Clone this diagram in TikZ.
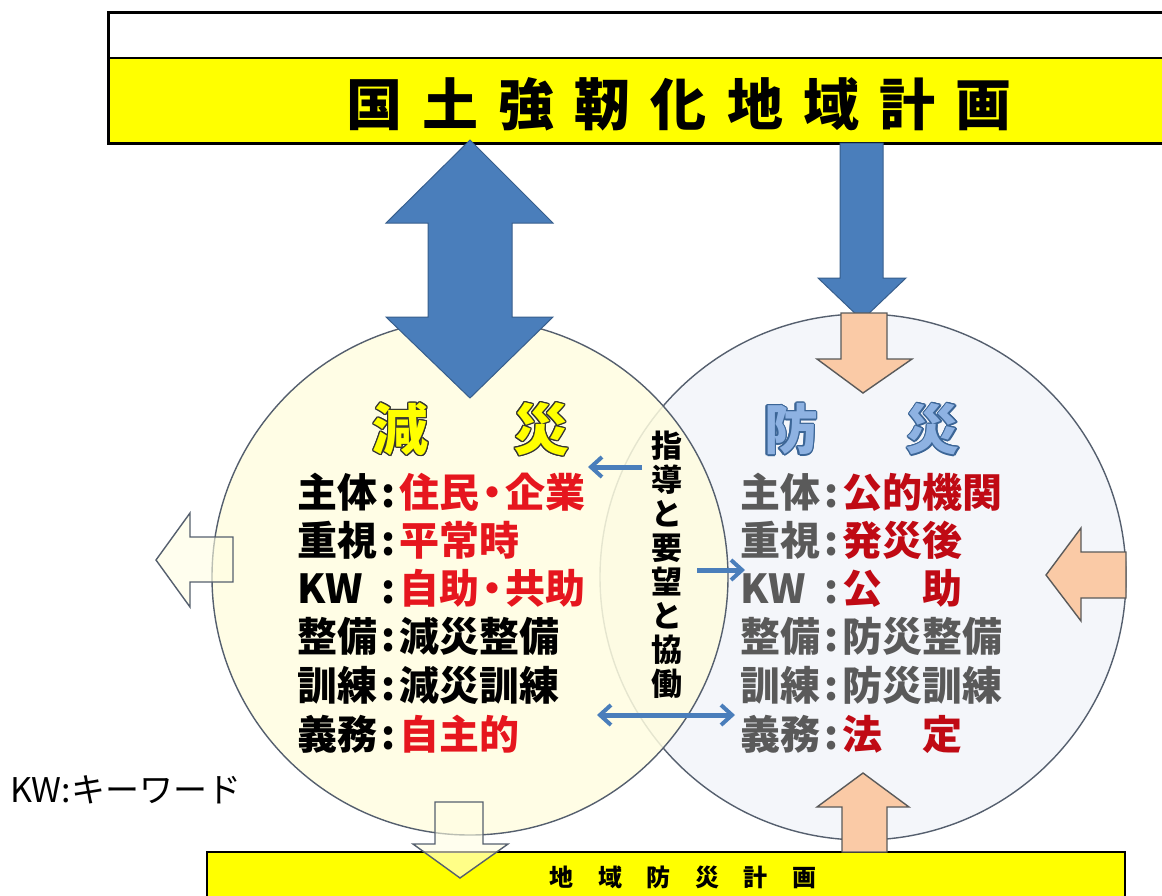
\documentclass[tikz,border=0pt]{standalone}
\usepackage{fontspec}
\setmainfont{Noto Sans CJK JP}
\usepackage{contour}
\usetikzlibrary{positioning, arrows.meta, calc}
\definecolor{planyellow}{rgb}{1, 1, 0}
\definecolor{gensaifill}{RGB}{255, 253, 224}
\definecolor{bosaifill}{RGB}{244, 246, 250}
\definecolor{bigblue}{RGB}{74, 126, 187}
\definecolor{peach}{RGB}{250, 202, 166}
\definecolor{paleyellow}{RGB}{255, 254, 226}
\definecolor{redL}{RGB}{230, 22, 30}
\definecolor{redR}{RGB}{192, 10, 20}
\definecolor{grayR}{RGB}{90, 90, 90}
\definecolor{edgegray}{RGB}{85, 95, 110}
\definecolor{titleblue}{RGB}{142, 178, 226}

\newcommand{\rowfont}{\fontsize{40}{44}\selectfont\bfseries}
\newcommand{\sep}{\makebox[22pt]{:}}
\newcommand{\lab}[1]{\makebox[80pt][l]{#1}}
\contourlength{1.3pt}

\tikzset{
  ring/.style={circle, draw=edgegray, line width=1.4pt, minimum size=#1, inner sep=0pt},
  bigarrow/.style={fill=bigblue, draw=bigblue!75!black, line width=1pt},
  peacharrow/.style={fill=peach, draw=grayR, line width=1.4pt},
  hollowarrow/.style={fill=paleyellow, fill opacity=0.6, draw=edgegray, line width=1.4pt},
  rowL/.style={anchor=west, inner sep=0pt, font=\rowfont},
  rowR/.style={anchor=west, inner sep=0pt, font=\rowfont, text=grayR},
  barb/.tip={Straight Barb[length=11pt,width=20pt,line width=4pt]},
  guidearrow/.style={draw=bigblue, line width=5pt, arrows={-barb}}
}

\begin{document}
\begin{tikzpicture}[x=1pt,y=-1pt]
		\useasboundingbox (0,0) rectangle (1162,895);

		% two circles
		\node[ring=526pt, fill=bosaifill] (bosai) at (863,577) {};
		\node[ring=516pt, fill=gensaifill, fill opacity=0.85] (gensai) at (470,577) {};

		% top plan
		\fill[white] (108,12) rectangle (1180,58);
		\fill[planyellow] (108,58) rectangle (1180,143);
		\draw[line width=3pt] (108,12) rectangle (1180,143);
		\draw[line width=2.5pt] (108,58) -- (1180,58);
		\node[font=\fontsize{56}{60}\selectfont\bfseries, inner sep=0pt] (kyojin) at (679,104)
			{\addfontfeatures{LetterSpace=36}国土強靭化地域計画};

		% bottom plan
		\fill[planyellow] (207,852) rectangle (1125,905);
		\draw[line width=2pt] (207,905) -- (207,852) -- (1125,852) -- (1125,905);
		\node[font=\fontsize{24}{26}\selectfont\bfseries, inner sep=0pt] (chiiki) at (683,877)
			{\addfontfeatures{LetterSpace=102}地域防災計画};

		% blue arrows from the top plan
		\draw[bigarrow] (470,140) -- ++(83,83) -- ++(-41,0) -- ++(0,94) -- ++(41,0)
			-- (470,398) -- ++(-84,-81) -- ++(42,0) -- ++(0,-94) -- ++(-42,0) -- cycle;
		\draw[bigarrow] (840,143) -- ++(43,0) -- ++(0,135) -- ++(23,0) -- (862,320)
			-- ++(-44,-42) -- ++(22,0) -- cycle;

		% peach arrows into the right circle
		\draw[peacharrow] (841,313) -- ++(46,0) -- ++(0,46) -- ++(25,0) -- (863,393)
			-- ++(-46,-34) -- ++(24,0) -- cycle;
		\draw[peacharrow] (1126,552) -- ++(-45,0) -- ++(0,-24) -- (1046,575)
			-- ++(35,46) -- ++(0,-23) -- ++(45,0) -- cycle;
		\draw[peacharrow] (842,852) -- ++(0,-45) -- ++(-25,0) -- (863,773)
			-- ++(46,34) -- ++(-22,0) -- ++(0,45) -- cycle;

		% pale arrows out of the left circle
		\draw[hollowarrow] (233,537) -- ++(-43,0) -- ++(0,-24) -- (156,560)
			-- ++(34,47) -- ++(0,-25) -- ++(43,0) -- cycle;
		\draw[hollowarrow] (435,802) -- ++(48,0) -- ++(0,42) -- ++(25,0) -- (460,878)
			-- ++(-47,-34) -- ++(22,0) -- cycle;

		% circle titles
		\node[font=\fontsize{56}{60}\selectfont\bfseries, inner sep=0pt] (gentitle) at (471,430)
			{\contour{black!80}{\textcolor{planyellow}{減\hspace{85pt}災}}};
		\node[font=\fontsize{54}{58}\selectfont\bfseries, inner sep=0pt] (botitle) at (862,430)
			{\contour{bigblue!80!black}{\textcolor{titleblue}{防\hspace{88pt}災}}};

		% left rows
		\node[rowL] (l1) at (297,492) {\lab{主体}\sep\textcolor{redL}{住民\makebox[26pt]{・}企業}};
		\node[rowL] (l2) at (297,540) {\lab{重視}\sep\textcolor{redL}{平常時}};
		\node[rowL] (l3) at (297,588) {\lab{KW}\sep\textcolor{redL}{自助\makebox[26pt]{・}共助}};
		\node[rowL] (l4) at (297,636) {\lab{整備}\sep 減災整備};
		\node[rowL] (l5) at (297,685) {\lab{訓練}\sep 減災訓練};
		\node[rowL] (l6) at (297,734) {\lab{義務}\sep\textcolor{redL}{自主的}};

		% right rows
		\node[rowR] (r1) at (740,492) {\lab{主体}\sep\textcolor{redR}{公的機関}};
		\node[rowR] (r2) at (740,540) {\lab{重視}\sep\textcolor{redR}{発災後}};
		\node[rowR] (r3) at (740,588) {\lab{KW}\sep\textcolor{redR}{公　助}};
		\node[rowR] (r4) at (740,636) {\lab{整備}\sep 防災整備};
		\node[rowR] (r5) at (740,685) {\lab{訓練}\sep 防災訓練};
		\node[rowR] (r6) at (740,734) {\lab{義務}\sep\textcolor{redR}{法　定}};

		% guidance between the two
		\node[font=\fontsize{31}{34}\selectfont\bfseries, align=center, inner sep=0pt] (kyodo) at (667,565)
			{指\\導\\と\\要\\望\\と\\協\\働};
		\coordinate (g1) at (642,467);
		\coordinate (g1e) at (588,467);
		\coordinate (g2) at (697,570);
		\coordinate (g2e) at (745,570);
		\coordinate (g3) at (597,715);
		\coordinate (g3e) at (735,715);
		\draw[guidearrow] (g1) -- (g1e);
		\draw[guidearrow] (g2) -- (g2e);
		\draw[guidearrow, arrows={barb-barb}] (g3) -- (g3e);

		\node[anchor=west, font=\fontsize{34}{38}\selectfont, inner sep=0pt] (kw) at (10,790) {KW:キーワード};
\end{tikzpicture}
\end{document}
